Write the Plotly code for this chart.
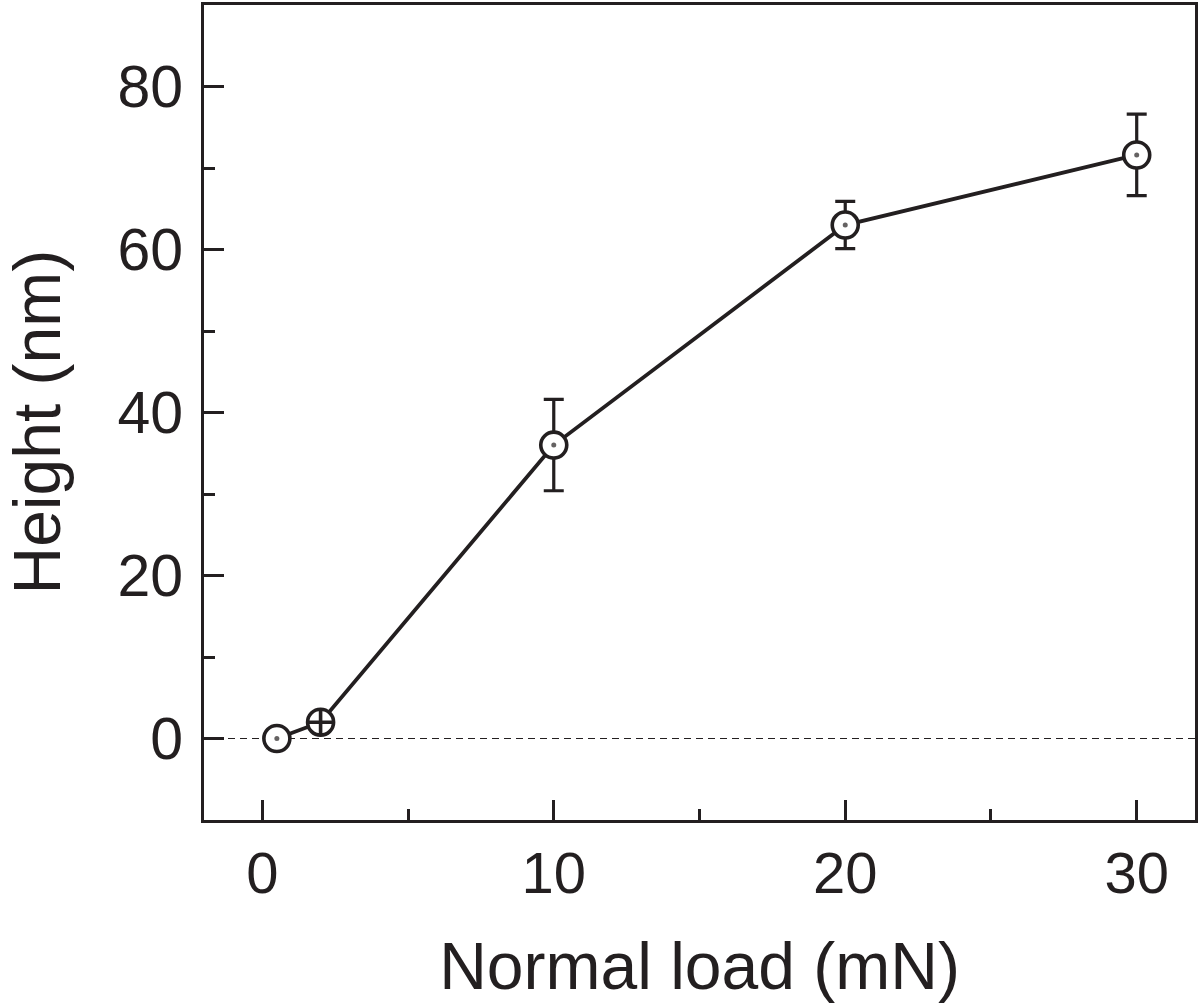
import plotly.graph_objects as go

# Data
load_mN = [0.5, 2, 10, 20, 30]
height_nm = [0, 2, 36, 63, 71.6]
height_err = [0, 0, 5.6, 2.9, 5.0]
marker_symbols = ["circle", "circle-cross", "circle", "circle", "circle"]
center_dot_sizes = [5, 0, 5, 5, 5]

x_ticks = [0, 10, 20, 30]
y_ticks = [0, 20, 40, 60, 80]

INK = "#231f20"
FONT = "Liberation Sans, Arial, Helvetica, sans-serif"

fig = go.Figure()

fig.add_trace(go.Scatter(
    x=load_mN, y=height_nm,
    mode="lines+markers",
    line=dict(color=INK, width=3.8),
    marker=dict(symbol=marker_symbols, size=26, color="white",
                line=dict(color=INK, width=3.6)),
    error_y=dict(type="data", array=height_err, visible=True,
                 color=INK, thickness=3.2, width=10),
    showlegend=False,
))
# centre dots of the circle-dot markers
fig.add_trace(go.Scatter(
    x=load_mN, y=height_nm, mode="markers",
    marker=dict(symbol="circle", size=center_dot_sizes, color=INK, line=dict(width=0)),
    showlegend=False, hoverinfo="skip",
))

fig.add_shape(type="line", xref="paper", yref="y", x0=0, x1=1, y0=0, y1=0,
              line=dict(color=INK, width=1.2, dash="7px,5px"), layer="below")

fig.add_annotation(
    text="Height (nm)", xref="paper", yref="paper", x=0, y=0.5,
    xanchor="center", yanchor="middle", xshift=-168, yshift=-10,
    textangle=-90, showarrow=False,
    font=dict(size=66, family=FONT, color=INK),
)

fig.update_layout(
    width=1200, height=1007,
    margin=dict(l=204, r=2, t=2, b=187),
    plot_bgcolor="white", paper_bgcolor="white",
    font=dict(family=FONT, color=INK),
)

fig.update_xaxes(
    range=[-2, 32], tickvals=x_ticks, ticktext=[str(v) for v in x_ticks],
    ticks="inside", ticklen=20, tickwidth=3, tickcolor=INK,
    minor=dict(dtick=5, tick0=0, ticks="inside", ticklen=11, tickwidth=3, tickcolor=INK),
    showline=True, linecolor=INK, linewidth=3, mirror=True,
    showgrid=False, zeroline=False,
    tickfont=dict(size=58, family=FONT, color=INK),
    ticklabelstandoff=0,
    title=dict(text="Normal load (mN)", font=dict(size=66, family=FONT, color=INK), standoff=40),
)
fig.update_yaxes(
    range=[-10, 90], tickvals=y_ticks, ticktext=[str(v) for v in y_ticks],
    ticks="inside", ticklen=20, tickwidth=3, tickcolor=INK,
    minor=dict(dtick=10, tick0=0, ticks="inside", ticklen=11, tickwidth=3, tickcolor=INK),
    showline=True, linecolor=INK, linewidth=3, mirror=True,
    showgrid=False, zeroline=False,
    tickfont=dict(size=59, family=FONT, color=INK),
    ticklabelstandoff=6,
)

fig.write_html("out.html", config={"displayModeBar": False},
               post_script="document.body.style.margin='0px';document.body.style.overflow='hidden';")
